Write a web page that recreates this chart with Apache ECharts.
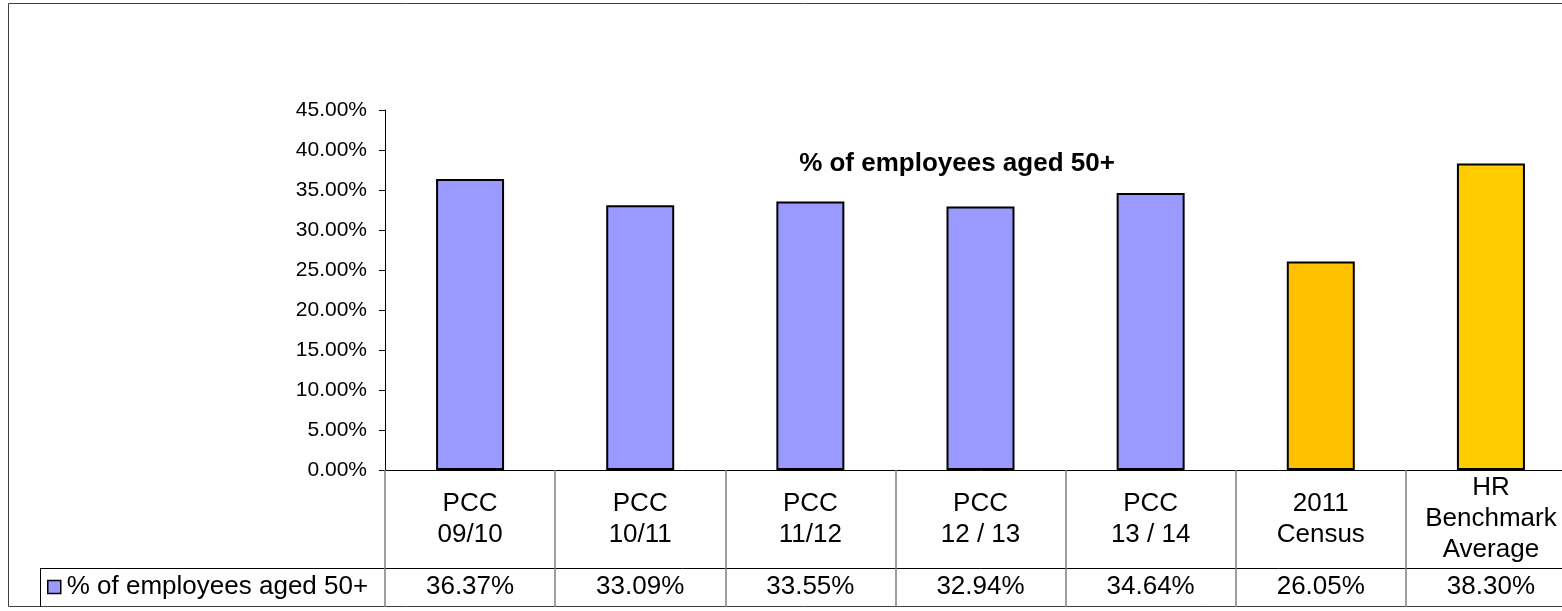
<!DOCTYPE html>
<html>
<head>
<meta charset="utf-8">
<script src="https://cdn.jsdelivr.net/npm/echarts@6/dist/echarts.min.js"></script>
<style>html,body{margin:0;padding:0;background:#fff;overflow:hidden}#c{width:1600px;height:611px}</style>
</head>
<body>
<div id="c"></div>
<script>
const categories = ['PCC\n09/10', 'PCC\n10/11', 'PCC\n11/12', 'PCC\n12 / 13', 'PCC\n13 / 14', '2011\nCensus', 'HR\nBenchmark\nAverage'];
const values = [36.37, 33.09, 33.55, 32.94, 34.64, 26.05, 38.30];
const seriesName = '% of employees aged 50+';
const chartTitle = '% of employees aged 50+';
const barColors = ['#9999FF', '#9999FF', '#9999FF', '#9999FF', '#9999FF', '#FFC000', '#FFCC00'];
const yMin = 0, yMax = 45, yInterval = 5;

const FONT = "'Liberation Sans', Arial, sans-serif";
const chart = echarts.init(document.getElementById('c'), null, {renderer: 'canvas'});
const valueLabels = values.map(v => v.toFixed(2) + '%');

chart.setOption({
  animation: false,
  backgroundColor: '#fff',
  textStyle: {fontFamily: FONT, color: '#000'},
  title: {
    text: chartTitle, left: 957, top: 151, textAlign: 'center', padding: 0,
    textStyle: {fontFamily: FONT, fontSize: 26, fontWeight: 'bold', color: '#000'}
  },
  legend: {
    data: [seriesName], left: 47, top: 574, orient: 'horizontal',
    icon: 'rect', itemWidth: 13, itemHeight: 13, itemGap: 5, padding: 0,
    itemStyle: {borderColor: '#000', borderWidth: 1.5},
    textStyle: {fontFamily: FONT, fontSize: 26, color: '#000', padding: [0, 0, 0, 1]}
  },
  grid: {left: 385, top: 110, width: 1191, height: 360, containLabel: false},
  xAxis: [
    {
      type: 'category', data: categories, position: 'bottom', boundaryGap: true,
      axisLine: {show: true, lineStyle: {color: '#000', width: 1}},
      axisTick: {show: true, length: 137, interval: 0, lineStyle: {color: '#808080', width: 1.5}},
      axisLabel: {interval: 0, margin: 49, verticalAlign: 'middle', lineHeight: 31,
        fontFamily: FONT, fontSize: 26, color: '#000'},
      splitLine: {show: false}
    },
    {
      type: 'category', data: valueLabels, position: 'bottom', offset: 98, boundaryGap: true,
      axisLine: {show: true, lineStyle: {color: '#000', width: 1}},
      axisTick: {show: false},
      axisLabel: {interval: 0, margin: 19, verticalAlign: 'middle',
        fontFamily: FONT, fontSize: 26, color: '#000'},
      splitLine: {show: false}
    }
  ],
  yAxis: {
    type: 'value', min: yMin, max: yMax, interval: yInterval,
    axisLine: {show: true, lineStyle: {color: '#000', width: 1}},
    axisTick: {show: true, length: 6, lineStyle: {color: '#000'}},
    axisLabel: {margin: 18, formatter: v => v.toFixed(2) + '%', fontFamily: FONT, fontSize: 21, color: '#000'},
    splitLine: {show: false}
  },
  series: [{
    name: seriesName, type: 'bar', xAxisIndex: 0, barWidth: 68,
    itemStyle: {color: '#9999FF', borderColor: '#000', borderWidth: 2},
    data: values.map((v, i) => ({value: v, itemStyle: {color: barColors[i]}}))
  }],
  graphic: [
    {type: 'rect', silent: true, shape: {x: 8.5, y: 3.5, width: 1700, height: 603}, style: {fill: 'none', stroke: '#404040', lineWidth: 1}},
    {type: 'line', silent: true, shape: {x1: 40, y1: 568.5, x2: 385, y2: 568.5}, style: {stroke: '#000', lineWidth: 1}},
    {type: 'line', silent: true, shape: {x1: 40.5, y1: 568, x2: 40.5, y2: 607}, style: {stroke: '#000', lineWidth: 1}}
  ]
});
</script>
</body>
</html>
